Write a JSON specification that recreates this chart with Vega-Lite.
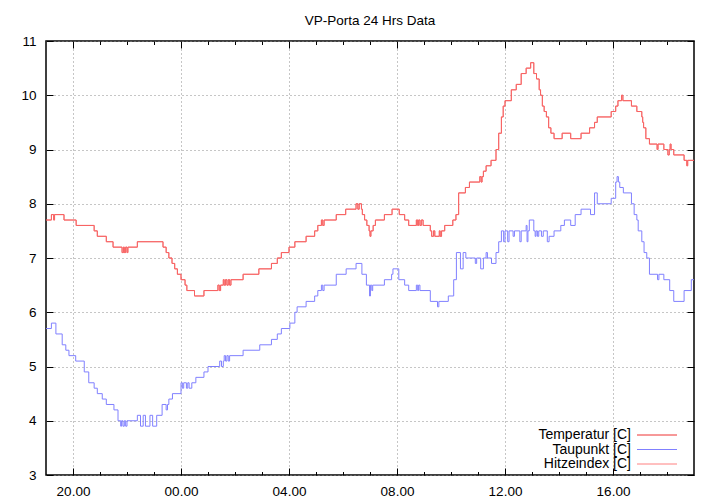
{
  "$schema": "https://vega.github.io/schema/vega-lite/v6.json",
  "autosize": "none",
  "width": 648,
  "height": 434,
  "padding": {"left": 46, "top": 41, "right": 26, "bottom": 29},
  "background": "white",
  "title": {"text": "VP-Porta 24 Hrs Data", "fontSize": 13.5, "fontWeight": "normal", "font": "Liberation Sans", "color": "black", "anchor": "middle", "offset": 7},
  "config": {
    "view": {"stroke": "black", "strokeWidth": 1.5},
    "font": "Liberation Sans",
    "axis": {"labelFont": "Liberation Sans", "labelFontSize": 13.5, "labelColor": "black", "domain": false, "tickColor": "black", "tickWidth": 1, "gridColor": "#8c8c8c", "gridDash": [1, 3], "gridWidth": 1, "gridOpacity": 1}
  },
  "datasets": {
    "temperature": [
      {"time": "2024-01-01T19:00", "temp": 7.7},
      {"time": "2024-01-01T19:12", "temp": 7.8},
      {"time": "2024-01-01T19:17", "temp": 7.7},
      {"time": "2024-01-01T19:19", "temp": 7.8},
      {"time": "2024-01-01T19:40", "temp": 7.7},
      {"time": "2024-01-01T20:07", "temp": 7.6},
      {"time": "2024-01-01T20:47", "temp": 7.5},
      {"time": "2024-01-01T20:54", "temp": 7.4},
      {"time": "2024-01-01T21:14", "temp": 7.3},
      {"time": "2024-01-01T21:29", "temp": 7.2},
      {"time": "2024-01-01T21:49", "temp": 7.1},
      {"time": "2024-01-01T21:52", "temp": 7.2},
      {"time": "2024-01-01T21:54", "temp": 7.1},
      {"time": "2024-01-01T21:57", "temp": 7.2},
      {"time": "2024-01-01T22:00", "temp": 7.1},
      {"time": "2024-01-01T22:02", "temp": 7.2},
      {"time": "2024-01-01T22:23", "temp": 7.3},
      {"time": "2024-01-01T23:20", "temp": 7.2},
      {"time": "2024-01-01T23:27", "temp": 7.1},
      {"time": "2024-01-01T23:33", "temp": 7.0},
      {"time": "2024-01-01T23:40", "temp": 6.9},
      {"time": "2024-01-01T23:46", "temp": 6.8},
      {"time": "2024-01-01T23:52", "temp": 6.7},
      {"time": "2024-01-02T00:00", "temp": 6.6},
      {"time": "2024-01-02T00:09", "temp": 6.5},
      {"time": "2024-01-02T00:13", "temp": 6.4},
      {"time": "2024-01-02T00:30", "temp": 6.3},
      {"time": "2024-01-02T00:51", "temp": 6.4},
      {"time": "2024-01-02T01:22", "temp": 6.5},
      {"time": "2024-01-02T01:25", "temp": 6.4},
      {"time": "2024-01-02T01:28", "temp": 6.5},
      {"time": "2024-01-02T01:34", "temp": 6.6},
      {"time": "2024-01-02T01:36", "temp": 6.5},
      {"time": "2024-01-02T01:39", "temp": 6.6},
      {"time": "2024-01-02T01:42", "temp": 6.5},
      {"time": "2024-01-02T01:45", "temp": 6.6},
      {"time": "2024-01-02T01:48", "temp": 6.5},
      {"time": "2024-01-02T01:51", "temp": 6.6},
      {"time": "2024-01-02T02:18", "temp": 6.7},
      {"time": "2024-01-02T02:53", "temp": 6.8},
      {"time": "2024-01-02T03:21", "temp": 6.9},
      {"time": "2024-01-02T03:34", "temp": 7.0},
      {"time": "2024-01-02T03:43", "temp": 7.1},
      {"time": "2024-01-02T04:00", "temp": 7.2},
      {"time": "2024-01-02T04:13", "temp": 7.3},
      {"time": "2024-01-02T04:38", "temp": 7.4},
      {"time": "2024-01-02T04:57", "temp": 7.5},
      {"time": "2024-01-02T05:04", "temp": 7.6},
      {"time": "2024-01-02T05:12", "temp": 7.7},
      {"time": "2024-01-02T05:15", "temp": 7.6},
      {"time": "2024-01-02T05:18", "temp": 7.7},
      {"time": "2024-01-02T05:45", "temp": 7.8},
      {"time": "2024-01-02T06:06", "temp": 7.9},
      {"time": "2024-01-02T06:29", "temp": 8.0},
      {"time": "2024-01-02T06:33", "temp": 7.9},
      {"time": "2024-01-02T06:36", "temp": 8.0},
      {"time": "2024-01-02T06:41", "temp": 7.9},
      {"time": "2024-01-02T06:43", "temp": 7.8},
      {"time": "2024-01-02T06:48", "temp": 7.7},
      {"time": "2024-01-02T06:53", "temp": 7.6},
      {"time": "2024-01-02T06:58", "temp": 7.5},
      {"time": "2024-01-02T07:00", "temp": 7.4},
      {"time": "2024-01-02T07:02", "temp": 7.5},
      {"time": "2024-01-02T07:07", "temp": 7.6},
      {"time": "2024-01-02T07:12", "temp": 7.7},
      {"time": "2024-01-02T07:32", "temp": 7.8},
      {"time": "2024-01-02T07:49", "temp": 7.9},
      {"time": "2024-01-02T08:05", "temp": 7.8},
      {"time": "2024-01-02T08:17", "temp": 7.7},
      {"time": "2024-01-02T08:26", "temp": 7.6},
      {"time": "2024-01-02T08:43", "temp": 7.7},
      {"time": "2024-01-02T08:46", "temp": 7.6},
      {"time": "2024-01-02T08:48", "temp": 7.7},
      {"time": "2024-01-02T08:51", "temp": 7.6},
      {"time": "2024-01-02T08:54", "temp": 7.7},
      {"time": "2024-01-02T08:58", "temp": 7.6},
      {"time": "2024-01-02T09:14", "temp": 7.5},
      {"time": "2024-01-02T09:17", "temp": 7.4},
      {"time": "2024-01-02T09:21", "temp": 7.5},
      {"time": "2024-01-02T09:24", "temp": 7.4},
      {"time": "2024-01-02T09:34", "temp": 7.5},
      {"time": "2024-01-02T09:36", "temp": 7.4},
      {"time": "2024-01-02T09:39", "temp": 7.5},
      {"time": "2024-01-02T09:46", "temp": 7.6},
      {"time": "2024-01-02T10:04", "temp": 7.7},
      {"time": "2024-01-02T10:11", "temp": 7.8},
      {"time": "2024-01-02T10:17", "temp": 8.2},
      {"time": "2024-01-02T10:32", "temp": 8.3},
      {"time": "2024-01-02T10:41", "temp": 8.4},
      {"time": "2024-01-02T11:04", "temp": 8.5},
      {"time": "2024-01-02T11:07", "temp": 8.4},
      {"time": "2024-01-02T11:09", "temp": 8.5},
      {"time": "2024-01-02T11:12", "temp": 8.6},
      {"time": "2024-01-02T11:18", "temp": 8.7},
      {"time": "2024-01-02T11:29", "temp": 8.8},
      {"time": "2024-01-02T11:40", "temp": 9.0},
      {"time": "2024-01-02T11:46", "temp": 9.3},
      {"time": "2024-01-02T11:52", "temp": 9.6},
      {"time": "2024-01-02T11:56", "temp": 9.8},
      {"time": "2024-01-02T12:00", "temp": 9.9},
      {"time": "2024-01-02T12:14", "temp": 10.1},
      {"time": "2024-01-02T12:25", "temp": 10.2},
      {"time": "2024-01-02T12:36", "temp": 10.4},
      {"time": "2024-01-02T12:47", "temp": 10.5},
      {"time": "2024-01-02T12:57", "temp": 10.6},
      {"time": "2024-01-02T13:04", "temp": 10.4},
      {"time": "2024-01-02T13:10", "temp": 10.3},
      {"time": "2024-01-02T13:16", "temp": 10.1},
      {"time": "2024-01-02T13:19", "temp": 10.0},
      {"time": "2024-01-02T13:23", "temp": 9.8},
      {"time": "2024-01-02T13:27", "temp": 9.7},
      {"time": "2024-01-02T13:32", "temp": 9.6},
      {"time": "2024-01-02T13:37", "temp": 9.4},
      {"time": "2024-01-02T13:42", "temp": 9.3},
      {"time": "2024-01-02T13:49", "temp": 9.2},
      {"time": "2024-01-02T14:07", "temp": 9.3},
      {"time": "2024-01-02T14:26", "temp": 9.2},
      {"time": "2024-01-02T14:49", "temp": 9.3},
      {"time": "2024-01-02T15:08", "temp": 9.4},
      {"time": "2024-01-02T15:19", "temp": 9.5},
      {"time": "2024-01-02T15:25", "temp": 9.6},
      {"time": "2024-01-02T15:56", "temp": 9.7},
      {"time": "2024-01-02T16:06", "temp": 9.8},
      {"time": "2024-01-02T16:11", "temp": 9.9},
      {"time": "2024-01-02T16:19", "temp": 10.0},
      {"time": "2024-01-02T16:22", "temp": 9.9},
      {"time": "2024-01-02T16:41", "temp": 9.8},
      {"time": "2024-01-02T16:53", "temp": 9.7},
      {"time": "2024-01-02T17:04", "temp": 9.6},
      {"time": "2024-01-02T17:06", "temp": 9.5},
      {"time": "2024-01-02T17:08", "temp": 9.4},
      {"time": "2024-01-02T17:13", "temp": 9.2},
      {"time": "2024-01-02T17:21", "temp": 9.1},
      {"time": "2024-01-02T17:38", "temp": 9.0},
      {"time": "2024-01-02T17:40", "temp": 9.1},
      {"time": "2024-01-02T17:53", "temp": 9.0},
      {"time": "2024-01-02T18:02", "temp": 8.9},
      {"time": "2024-01-02T18:05", "temp": 9.0},
      {"time": "2024-01-02T18:07", "temp": 9.1},
      {"time": "2024-01-02T18:09", "temp": 9.0},
      {"time": "2024-01-02T18:15", "temp": 8.9},
      {"time": "2024-01-02T18:38", "temp": 8.8},
      {"time": "2024-01-02T18:44", "temp": 8.7},
      {"time": "2024-01-02T18:46", "temp": 8.8},
      {"time": "2024-01-02T19:00", "temp": 8.8}
    ],
    "dewpoint": [
      {"time": "2024-01-01T19:00", "dew": 5.7},
      {"time": "2024-01-01T19:12", "dew": 5.8},
      {"time": "2024-01-01T19:22", "dew": 5.6},
      {"time": "2024-01-01T19:36", "dew": 5.4},
      {"time": "2024-01-01T19:44", "dew": 5.3},
      {"time": "2024-01-01T19:51", "dew": 5.2},
      {"time": "2024-01-01T20:06", "dew": 5.1},
      {"time": "2024-01-01T20:25", "dew": 4.9},
      {"time": "2024-01-01T20:35", "dew": 4.7},
      {"time": "2024-01-01T20:47", "dew": 4.6},
      {"time": "2024-01-01T20:54", "dew": 4.5},
      {"time": "2024-01-01T21:05", "dew": 4.4},
      {"time": "2024-01-01T21:14", "dew": 4.3},
      {"time": "2024-01-01T21:31", "dew": 4.2},
      {"time": "2024-01-01T21:40", "dew": 4.0},
      {"time": "2024-01-01T21:46", "dew": 3.9},
      {"time": "2024-01-01T21:48", "dew": 4.0},
      {"time": "2024-01-01T21:51", "dew": 3.9},
      {"time": "2024-01-01T21:54", "dew": 4.0},
      {"time": "2024-01-01T21:57", "dew": 3.9},
      {"time": "2024-01-01T22:00", "dew": 4.0},
      {"time": "2024-01-01T22:23", "dew": 4.1},
      {"time": "2024-01-01T22:30", "dew": 3.9},
      {"time": "2024-01-01T22:36", "dew": 4.1},
      {"time": "2024-01-01T22:41", "dew": 3.9},
      {"time": "2024-01-01T22:51", "dew": 4.1},
      {"time": "2024-01-01T22:57", "dew": 3.9},
      {"time": "2024-01-01T23:06", "dew": 4.1},
      {"time": "2024-01-01T23:18", "dew": 4.3},
      {"time": "2024-01-01T23:27", "dew": 4.2},
      {"time": "2024-01-01T23:30", "dew": 4.3},
      {"time": "2024-01-01T23:33", "dew": 4.4},
      {"time": "2024-01-01T23:41", "dew": 4.5},
      {"time": "2024-01-02T00:00", "dew": 4.7},
      {"time": "2024-01-02T00:03", "dew": 4.6},
      {"time": "2024-01-02T00:06", "dew": 4.7},
      {"time": "2024-01-02T00:12", "dew": 4.6},
      {"time": "2024-01-02T00:15", "dew": 4.7},
      {"time": "2024-01-02T00:18", "dew": 4.6},
      {"time": "2024-01-02T00:24", "dew": 4.7},
      {"time": "2024-01-02T00:33", "dew": 4.8},
      {"time": "2024-01-02T00:51", "dew": 4.9},
      {"time": "2024-01-02T01:00", "dew": 5.0},
      {"time": "2024-01-02T01:26", "dew": 5.1},
      {"time": "2024-01-02T01:30", "dew": 5.0},
      {"time": "2024-01-02T01:34", "dew": 5.1},
      {"time": "2024-01-02T01:36", "dew": 5.2},
      {"time": "2024-01-02T01:39", "dew": 5.1},
      {"time": "2024-01-02T01:42", "dew": 5.2},
      {"time": "2024-01-02T01:45", "dew": 5.1},
      {"time": "2024-01-02T01:48", "dew": 5.2},
      {"time": "2024-01-02T02:18", "dew": 5.3},
      {"time": "2024-01-02T02:55", "dew": 5.4},
      {"time": "2024-01-02T03:21", "dew": 5.5},
      {"time": "2024-01-02T03:34", "dew": 5.6},
      {"time": "2024-01-02T03:43", "dew": 5.7},
      {"time": "2024-01-02T04:02", "dew": 5.8},
      {"time": "2024-01-02T04:13", "dew": 6.0},
      {"time": "2024-01-02T04:18", "dew": 6.1},
      {"time": "2024-01-02T04:38", "dew": 6.2},
      {"time": "2024-01-02T04:57", "dew": 6.3},
      {"time": "2024-01-02T05:04", "dew": 6.4},
      {"time": "2024-01-02T05:12", "dew": 6.5},
      {"time": "2024-01-02T05:15", "dew": 6.4},
      {"time": "2024-01-02T05:18", "dew": 6.5},
      {"time": "2024-01-02T05:45", "dew": 6.7},
      {"time": "2024-01-02T06:07", "dew": 6.8},
      {"time": "2024-01-02T06:29", "dew": 6.9},
      {"time": "2024-01-02T06:42", "dew": 6.7},
      {"time": "2024-01-02T06:52", "dew": 6.5},
      {"time": "2024-01-02T06:59", "dew": 6.3},
      {"time": "2024-01-02T07:01", "dew": 6.5},
      {"time": "2024-01-02T07:04", "dew": 6.4},
      {"time": "2024-01-02T07:06", "dew": 6.5},
      {"time": "2024-01-02T07:32", "dew": 6.6},
      {"time": "2024-01-02T07:48", "dew": 6.7},
      {"time": "2024-01-02T07:51", "dew": 6.8},
      {"time": "2024-01-02T08:04", "dew": 6.6},
      {"time": "2024-01-02T08:17", "dew": 6.5},
      {"time": "2024-01-02T08:26", "dew": 6.4},
      {"time": "2024-01-02T08:43", "dew": 6.5},
      {"time": "2024-01-02T08:46", "dew": 6.4},
      {"time": "2024-01-02T08:48", "dew": 6.5},
      {"time": "2024-01-02T08:51", "dew": 6.4},
      {"time": "2024-01-02T09:14", "dew": 6.2},
      {"time": "2024-01-02T09:30", "dew": 6.1},
      {"time": "2024-01-02T09:33", "dew": 6.2},
      {"time": "2024-01-02T09:54", "dew": 6.3},
      {"time": "2024-01-02T10:06", "dew": 6.6},
      {"time": "2024-01-02T10:12", "dew": 7.1},
      {"time": "2024-01-02T10:21", "dew": 6.8},
      {"time": "2024-01-02T10:27", "dew": 7.1},
      {"time": "2024-01-02T10:33", "dew": 7.0},
      {"time": "2024-01-02T10:54", "dew": 6.9},
      {"time": "2024-01-02T10:57", "dew": 7.0},
      {"time": "2024-01-02T11:06", "dew": 6.8},
      {"time": "2024-01-02T11:12", "dew": 7.0},
      {"time": "2024-01-02T11:18", "dew": 7.1},
      {"time": "2024-01-02T11:21", "dew": 7.0},
      {"time": "2024-01-02T11:30", "dew": 6.9},
      {"time": "2024-01-02T11:40", "dew": 7.1},
      {"time": "2024-01-02T11:46", "dew": 7.3},
      {"time": "2024-01-02T11:52", "dew": 7.5},
      {"time": "2024-01-02T11:57", "dew": 7.3},
      {"time": "2024-01-02T12:00", "dew": 7.5},
      {"time": "2024-01-02T12:06", "dew": 7.3},
      {"time": "2024-01-02T12:09", "dew": 7.5},
      {"time": "2024-01-02T12:18", "dew": 7.4},
      {"time": "2024-01-02T12:21", "dew": 7.5},
      {"time": "2024-01-02T12:33", "dew": 7.3},
      {"time": "2024-01-02T12:36", "dew": 7.5},
      {"time": "2024-01-02T12:47", "dew": 7.6},
      {"time": "2024-01-02T12:49", "dew": 7.3},
      {"time": "2024-01-02T12:51", "dew": 7.5},
      {"time": "2024-01-02T12:54", "dew": 7.7},
      {"time": "2024-01-02T13:04", "dew": 7.5},
      {"time": "2024-01-02T13:07", "dew": 7.4},
      {"time": "2024-01-02T13:09", "dew": 7.5},
      {"time": "2024-01-02T13:12", "dew": 7.4},
      {"time": "2024-01-02T13:15", "dew": 7.5},
      {"time": "2024-01-02T13:21", "dew": 7.4},
      {"time": "2024-01-02T13:25", "dew": 7.5},
      {"time": "2024-01-02T13:34", "dew": 7.3},
      {"time": "2024-01-02T13:38", "dew": 7.4},
      {"time": "2024-01-02T13:49", "dew": 7.5},
      {"time": "2024-01-02T14:04", "dew": 7.6},
      {"time": "2024-01-02T14:12", "dew": 7.7},
      {"time": "2024-01-02T14:26", "dew": 7.6},
      {"time": "2024-01-02T14:36", "dew": 7.8},
      {"time": "2024-01-02T14:49", "dew": 7.9},
      {"time": "2024-01-02T15:10", "dew": 7.8},
      {"time": "2024-01-02T15:19", "dew": 8.2},
      {"time": "2024-01-02T15:25", "dew": 8.0},
      {"time": "2024-01-02T15:56", "dew": 8.1},
      {"time": "2024-01-02T16:06", "dew": 8.4},
      {"time": "2024-01-02T16:09", "dew": 8.5},
      {"time": "2024-01-02T16:12", "dew": 8.4},
      {"time": "2024-01-02T16:15", "dew": 8.3},
      {"time": "2024-01-02T16:23", "dew": 8.2},
      {"time": "2024-01-02T16:41", "dew": 8.0},
      {"time": "2024-01-02T16:47", "dew": 7.8},
      {"time": "2024-01-02T16:53", "dew": 7.7},
      {"time": "2024-01-02T16:56", "dew": 7.5},
      {"time": "2024-01-02T17:04", "dew": 7.3},
      {"time": "2024-01-02T17:09", "dew": 7.1},
      {"time": "2024-01-02T17:15", "dew": 7.0},
      {"time": "2024-01-02T17:21", "dew": 6.7},
      {"time": "2024-01-02T17:39", "dew": 6.6},
      {"time": "2024-01-02T17:42", "dew": 6.7},
      {"time": "2024-01-02T17:53", "dew": 6.6},
      {"time": "2024-01-02T18:06", "dew": 6.4},
      {"time": "2024-01-02T18:15", "dew": 6.2},
      {"time": "2024-01-02T18:38", "dew": 6.4},
      {"time": "2024-01-02T18:54", "dew": 6.6},
      {"time": "2024-01-02T19:00", "dew": 6.6}
    ]
  },
  "layer": [
    {
      "data": {"name": "temperature"},
      "mark": {"type": "line", "interpolate": "step-after", "strokeWidth": 1},
      "encoding": {
        "x": {"field": "time", "type": "temporal",
          "scale": {"domain": ["2024-01-01T19:00", "2024-01-02T19:00"]},
          "axis": {"orient": "bottom", "title": null, "format": "%H.%M",
            "values": ["2024-01-01T20:00", "2024-01-02T00:00", "2024-01-02T04:00", "2024-01-02T08:00", "2024-01-02T12:00", "2024-01-02T16:00"],
            "tickSize": -7, "grid": true, "labelPadding": 16, "labelFlush": false, "labelOverlap": false}},
        "y": {"field": "temp", "type": "quantitative",
          "scale": {"domain": [3, 11], "nice": false, "zero": false},
          "axis": {"orient": "left", "title": null, "values": [3, 4, 5, 6, 7, 8, 9, 10, 11], "tickSize": -7, "grid": true, "labelPadding": 17}},
        "color": {"datum": "Temperatur [C]", "type": "nominal",
          "scale": {"domain": ["Temperatur [C]", "Taupunkt [C]", "Hitzeindex [C]"], "range": ["#ee3333", "#8080ff", "#ff8080"]},
          "legend": {"orient": "none", "legendX": 604, "legendY": 387, "title": null, "symbolType": "M-20,0H20", "symbolSize": 4, "symbolStrokeWidth": 1, "labelAlign": "right", "labelOffset": -33, "labelFontSize": 14, "labelFont": "Liberation Sans", "labelColor": "black", "rowPadding": 0.5, "padding": 0}}
      }
    },
    {
      "data": {"name": "dewpoint"},
      "mark": {"type": "line", "interpolate": "step-after", "strokeWidth": 1},
      "encoding": {
        "x": {"field": "time", "type": "temporal",
          "axis": {"orient": "top", "title": null, "labels": false, "grid": false,
            "values": ["2024-01-01T20:00", "2024-01-01T21:00", "2024-01-01T22:00", "2024-01-01T23:00", "2024-01-02T00:00", "2024-01-02T01:00", "2024-01-02T02:00", "2024-01-02T03:00", "2024-01-02T04:00", "2024-01-02T05:00", "2024-01-02T06:00", "2024-01-02T07:00", "2024-01-02T08:00", "2024-01-02T09:00", "2024-01-02T10:00", "2024-01-02T11:00", "2024-01-02T12:00", "2024-01-02T13:00", "2024-01-02T14:00", "2024-01-02T15:00", "2024-01-02T16:00", "2024-01-02T17:00", "2024-01-02T18:00"],
            "tickSize": {"condition": {"test": "hours(datum.value) % 4 == 0", "value": -7}, "value": -3.5}}},
        "y": {"field": "dew", "type": "quantitative",
          "axis": {"orient": "right", "title": null, "labels": false, "grid": false, "values": [3, 4, 5, 6, 7, 8, 9, 10, 11], "tickSize": -7}},
        "color": {"datum": "Taupunkt [C]", "type": "nominal"}
      }
    },
    {
      "data": {"name": "temperature"},
      "mark": {"type": "line", "interpolate": "step-after", "strokeWidth": 1, "strokeOpacity": 0.6},
      "encoding": {
        "x": {"field": "time", "type": "temporal",
          "axis": {"orient": "bottom", "title": null, "labels": false, "grid": false, "tickSize": -3.5,
            "values": ["2024-01-01T21:00", "2024-01-01T22:00", "2024-01-01T23:00", "2024-01-02T01:00", "2024-01-02T02:00", "2024-01-02T03:00", "2024-01-02T05:00", "2024-01-02T06:00", "2024-01-02T07:00", "2024-01-02T09:00", "2024-01-02T10:00", "2024-01-02T11:00", "2024-01-02T13:00", "2024-01-02T14:00", "2024-01-02T15:00", "2024-01-02T17:00", "2024-01-02T18:00"]}},
        "y": {"field": "temp", "type": "quantitative", "axis": null},
        "color": {"datum": "Hitzeindex [C]", "type": "nominal"}
      }
    }
  ],
  "resolve": {"axis": {"x": "independent", "y": "independent"}}
}
